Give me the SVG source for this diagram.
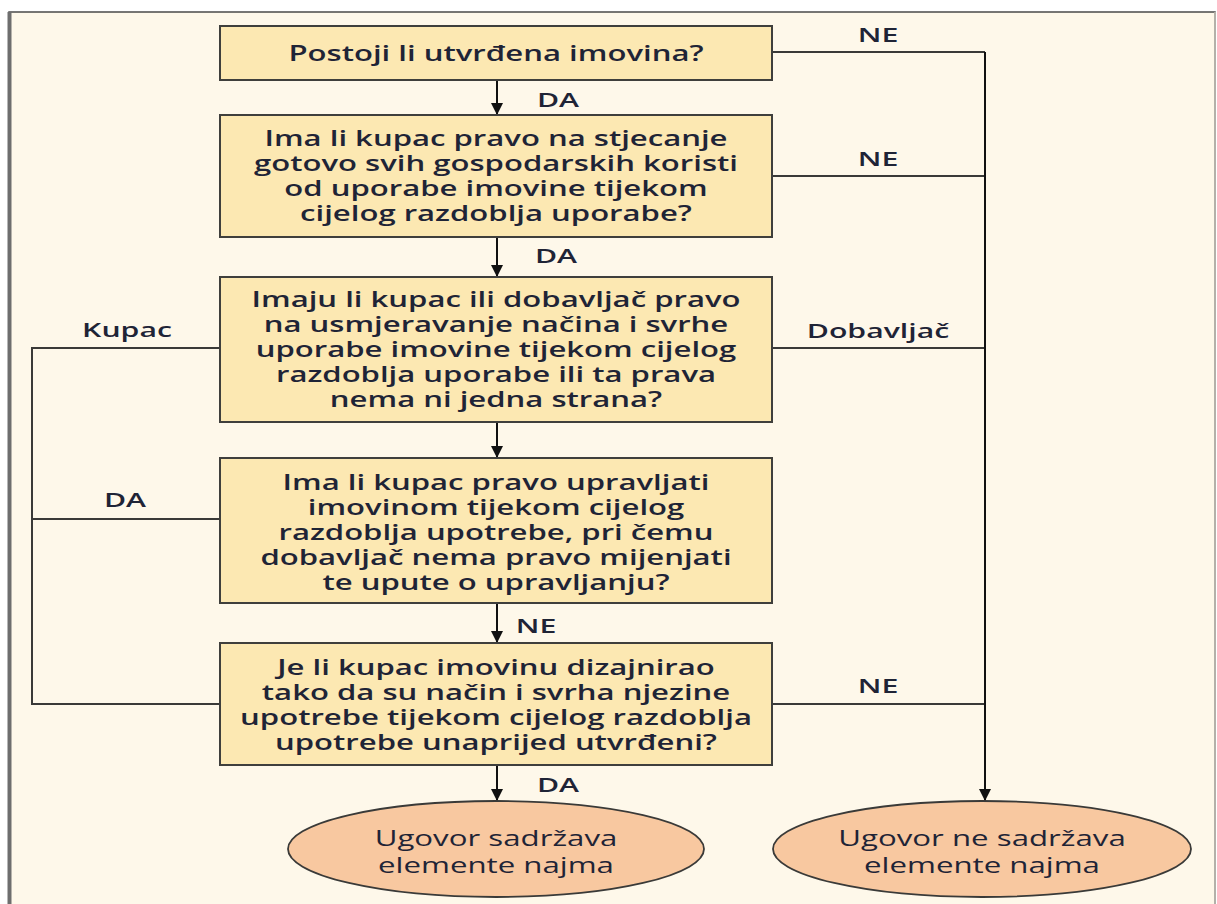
<svg xmlns="http://www.w3.org/2000/svg" width="1217" height="904" viewBox="0 0 1217 904">
<style>
.box{fill:#fce8b2;stroke:#3f3f3c;stroke-width:2}
.term{fill:#f8c8a0;stroke:#3a3a38;stroke-width:1.8}
.t{font-family:"Open Sans","Noto Sans","Liberation Sans",sans-serif;font-weight:600;font-size:21px;fill:#1f2436;text-anchor:middle}
.tr{font-family:"Open Sans","Noto Sans","Liberation Sans",sans-serif;font-weight:400;font-size:22px;fill:#1f2436;text-anchor:middle}
.lbl{font-family:"Open Sans","Noto Sans","Liberation Sans",sans-serif;font-weight:600;font-size:19.5px;fill:#1f2436;text-anchor:middle}
.ln{fill:none;stroke:#3a3a38;stroke-width:2}
.ar{fill:none;stroke:#111;stroke-width:2;marker-end:url(#ah)}
</style>
<defs>
<marker id="ah" viewBox="0 0 10 10" refX="10" refY="5" markerWidth="12" markerHeight="12" markerUnits="userSpaceOnUse" orient="auto">
<path d="M0,0 L10,5 L0,10 z" fill="#111"/>
</marker>
</defs>
<rect x="0" y="0" width="1217" height="904" fill="#ffffff"/>
<rect x="9" y="12" width="1206" height="900" fill="#fef8ea" stroke="#4a4a4a" stroke-width="1.5"/>
<line x1="9.5" y1="12" x2="9.5" y2="904" stroke="#6e6e6e" stroke-width="4"/>
<line x1="1215" y1="12" x2="1215" y2="904" stroke="#c9c6bd" stroke-width="1.5"/>

<g id="connectors">
<path class="ar" d="M497,80 V115"/>
<path class="ar" d="M497,237 V277"/>
<path class="ar" d="M497,422 V458"/>
<path class="ar" d="M497,603 V643"/>
<path class="ar" d="M497,765 V801"/>
<path class="ln" d="M772,52 H985"/>
<path class="ln" d="M772,176 H985"/>
<path class="ln" d="M772,348 H985"/>
<path class="ln" d="M772,704 H985"/>
<path class="ar" d="M985,52 V801"/>
<path class="ln" d="M220,348 H32 V704 H220"/>
<path class="ln" d="M32,519 H220"/>
<text class="lbl" transform="translate(558,0) scale(1.55,1)" y="107">DA</text>
<text class="lbl" transform="translate(556,0) scale(1.55,1)" y="263">DA</text>
<text class="lbl" transform="translate(536,0) scale(1.55,1)" y="633">NE</text>
<text class="lbl" transform="translate(558,0) scale(1.55,1)" y="792">DA</text>
<text class="lbl" transform="translate(878,0) scale(1.55,1)" y="42">NE</text>
<text class="lbl" transform="translate(878,0) scale(1.55,1)" y="166">NE</text>
<text class="lbl" transform="translate(878,0) scale(1.55,1)" y="338">Dobavljač</text>
<text class="lbl" transform="translate(878,0) scale(1.55,1)" y="693">NE</text>
<text class="lbl" transform="translate(127,0) scale(1.55,1)" y="337">Kupac</text>
<text class="lbl" transform="translate(125,0) scale(1.55,1)" y="507">DA</text>
</g>

<g id="n1">
<rect class="box" x="220" y="26" width="552" height="54"/>
<text class="t" transform="translate(496,0) scale(1.48,1)" y="61">Postoji li utvrđena imovina?</text>
</g>
<g id="n2">
<rect class="box" x="220" y="115" width="552" height="122"/>
<g transform="translate(496,0) scale(1.48,1)">
<text class="t" y="146">Ima li kupac pravo na stjecanje</text>
<text class="t" y="171">gotovo svih gospodarskih koristi</text>
<text class="t" y="196">od uporabe imovine tijekom</text>
<text class="t" y="221">cijelog razdoblja uporabe?</text>
</g>
</g>
<g id="n3">
<rect class="box" x="220" y="277" width="552" height="145"/>
<g transform="translate(496,0) scale(1.48,1)">
<text class="t" y="307">Imaju li kupac ili dobavljač pravo</text>
<text class="t" y="332">na usmjeravanje načina i svrhe</text>
<text class="t" y="357">uporabe imovine tijekom cijelog</text>
<text class="t" y="382">razdoblja uporabe ili ta prava</text>
<text class="t" y="407">nema ni jedna strana?</text>
</g>
</g>
<g id="n4">
<rect class="box" x="220" y="458" width="552" height="145"/>
<g transform="translate(496,0) scale(1.48,1)">
<text class="t" y="490">Ima li kupac pravo upravljati</text>
<text class="t" y="515">imovinom tijekom cijelog</text>
<text class="t" y="540">razdoblja upotrebe, pri čemu</text>
<text class="t" y="565">dobavljač nema pravo mijenjati</text>
<text class="t" y="590">te upute o upravljanju?</text>
</g>
</g>
<g id="n5">
<rect class="box" x="220" y="643" width="552" height="122"/>
<g transform="translate(496,0) scale(1.48,1)">
<text class="t" y="675">Je li kupac imovinu dizajnirao</text>
<text class="t" y="700">tako da su način i svrha njezine</text>
<text class="t" y="725">upotrebe tijekom cijelog razdoblja</text>
<text class="t" y="750">upotrebe unaprijed utvrđeni?</text>
</g>
</g>
<g id="e1">
<ellipse class="term" cx="496" cy="849" rx="208" ry="48"/>
<g transform="translate(496,0) scale(1.42,1)">
<text class="tr" y="846">Ugovor sadržava</text>
<text class="tr" y="873">elemente najma</text>
</g>
</g>
<g id="e2">
<ellipse class="term" cx="982" cy="849" rx="209" ry="48"/>
<g transform="translate(982,0) scale(1.42,1)">
<text class="tr" y="846">Ugovor ne sadržava</text>
<text class="tr" y="873">elemente najma</text>
</g>
</g>
</svg>
